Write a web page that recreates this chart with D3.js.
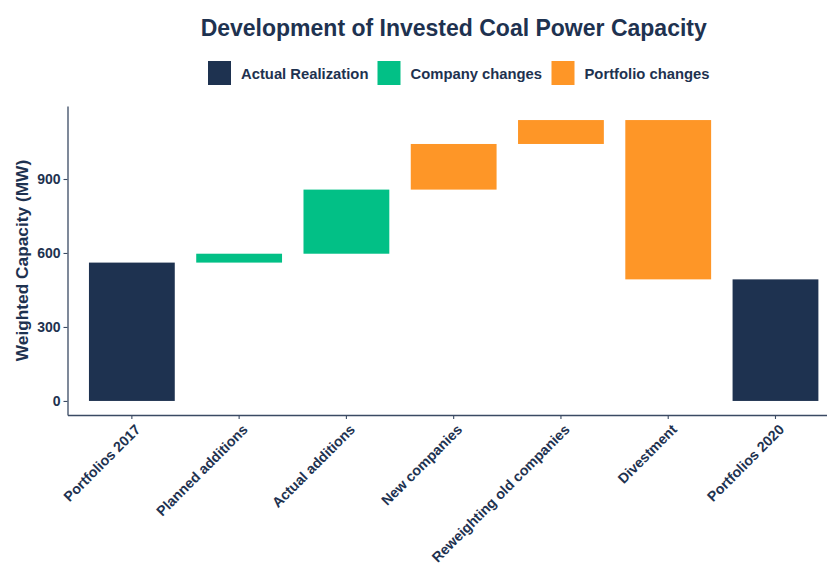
<!DOCTYPE html>
<html>
<head>
<meta charset="utf-8">
<script src="https://cdn.jsdelivr.net/npm/d3@7"></script>
<style>
  body { margin: 0; background: #ffffff; }
  svg { display: block; font-family: "Liberation Sans", Arial, sans-serif; }
</style>
</head>
<body>
<svg id="chart" width="827" height="567"></svg>
<script>
// ---- data ----
const categories = ["Portfolios 2017", "Planned additions", "Actual additions", "New companies",
                    "Reweighting old companies", "Divestment", "Portfolios 2020"];
const barStart = [0, 561, 597, 857, 1042, 1139, 0];
const barEnd   = [561, 597, 857, 1042, 1139, 493, 493];
const barGroup = ["Actual Realization", "Company changes", "Company changes", "Portfolio changes",
                  "Portfolio changes", "Portfolio changes", "Actual Realization"];
const groups = ["Actual Realization", "Company changes", "Portfolio changes"];
const groupColors = ["#1e3250", "#02c086", "#fe9627"];
const yTicks = [0, 300, 600, 900];
const titleText = "Development of Invested Coal Power Capacity";
const yTitle = "Weighted Capacity (MW)";

const textColor = "#1e3250";
const svg = d3.select("#chart");

const color = d3.scaleOrdinal().domain(groups).range(groupColors);

const x = d3.scaleBand().domain(categories)
  .range([67.5, 67.5 + 107.27 * 7.2])
  .paddingInner(0.2).paddingOuter(0.2);

const y = d3.scaleLinear().domain([-57, 1196]).range([415, 106]);

// bars
svg.append("g").selectAll("rect")
  .data(categories)
  .join("rect")
  .attr("x", d => x(d))
  .attr("width", x.bandwidth())
  .attr("y", (d, i) => y(Math.max(barStart[i], barEnd[i])))
  .attr("height", (d, i) => Math.abs(y(barStart[i]) - y(barEnd[i])))
  .attr("fill", (d, i) => color(barGroup[i]));

// y axis
const yAxis = svg.append("g")
  .attr("transform", "translate(67.5,0)")
  .call(d3.axisLeft(y).tickValues(yTicks).tickSize(4).tickPadding(3).tickSizeOuter(0));
yAxis.select(".domain").attr("stroke", "#3a4a63").attr("stroke-width", 1.3);
yAxis.selectAll(".tick line").attr("stroke", "#3a4a63").attr("stroke-width", 1.1);
yAxis.selectAll(".tick text")
  .attr("fill", textColor).attr("font-size", 14).attr("font-weight", "bold")
  .attr("font-family", "Liberation Sans, Arial, sans-serif");

// x axis
const xAxis = svg.append("g")
  .attr("transform", "translate(0,415)")
  .call(d3.axisBottom(x).tickSize(4).tickSizeOuter(0));
xAxis.select(".domain").attr("stroke", "#3a4a63").attr("stroke-width", 1.3);
xAxis.selectAll(".tick line").attr("stroke", "#3a4a63").attr("stroke-width", 1.1);
xAxis.selectAll(".tick text")
  .attr("fill", textColor).attr("font-size", 14.2).attr("font-weight", "bold")
  .attr("font-family", "Liberation Sans, Arial, sans-serif")
  .attr("text-anchor", "end")
  .attr("dy", "0.35em")
  .attr("transform", "translate(6,12) rotate(-45)")
  .attr("y", 0);

// y title
svg.append("text")
  .attr("transform", `translate(27.5,${(106 + 415) / 2}) rotate(-90)`)
  .attr("text-anchor", "middle")
  .attr("fill", textColor).attr("font-size", 17.3).attr("font-weight", "bold")
  .text(yTitle);

// title
svg.append("text")
  .attr("x", 453.7).attr("y", 36)
  .attr("text-anchor", "middle")
  .attr("fill", textColor).attr("font-size", 23).attr("font-weight", "bold")
  .text(titleText);

// legend
const legendX = [208, 377.5, 551.5];
const lg = svg.append("g");
groups.forEach((g, i) => {
  lg.append("rect")
    .attr("x", legendX[i]).attr("y", 61).attr("width", 23).attr("height", 24)
    .attr("fill", color(g));
  lg.append("text")
    .attr("x", legendX[i] + 33).attr("y", 74)
    .attr("dy", "0.35em")
    .attr("fill", textColor).attr("font-size", 14.8).attr("font-weight", "bold")
    .text(g);
});
</script>
</body>
</html>
